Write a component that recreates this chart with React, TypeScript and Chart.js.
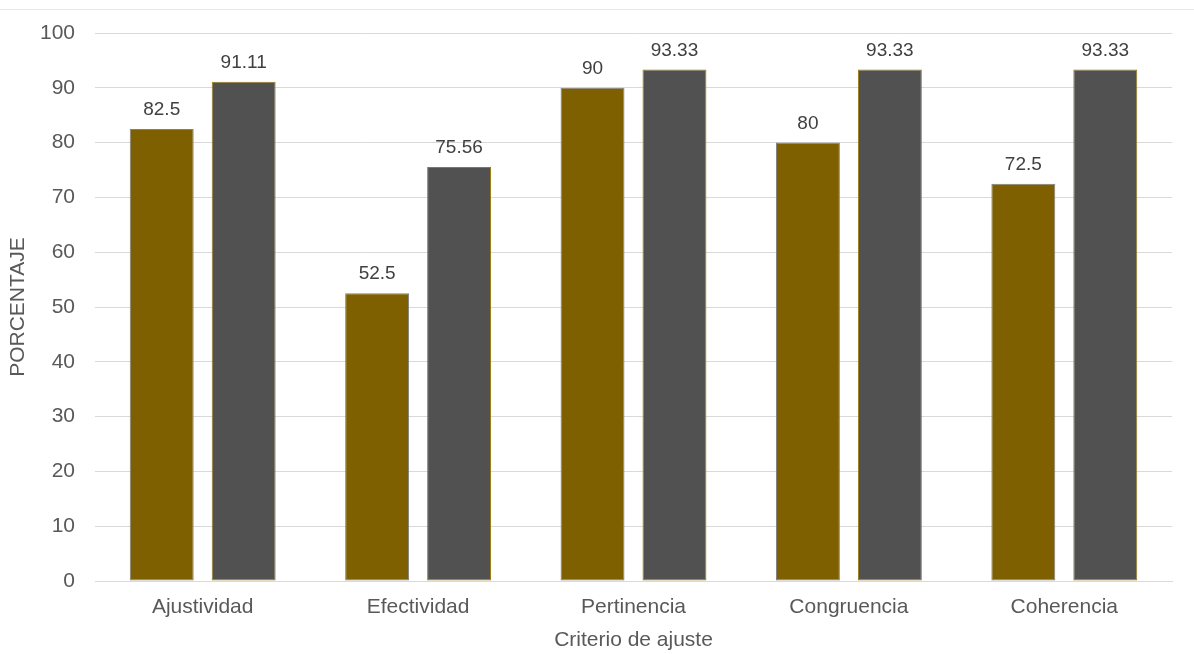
import React, { useEffect, useRef } from "react";
import { Chart, registerables } from "chart.js";

Chart.register(...registerables);

const categories = ["Ajustividad", "Efectividad", "Pertinencia", "Congruencia", "Coherencia"];
const series1 = [82.5, 52.5, 90, 80, 72.5];
const series2 = [91.11, 75.56, 93.33, 93.33, 93.33];
const yTicks = [0, 10, 20, 30, 40, 50, 60, 70, 80, 90, 100];

const FONT = "'Liberation Sans', Arial, sans-serif";
const TEXT = "#595959";

const valueLabels = {
  id: "valueLabels",
  afterDatasetsDraw(chart: any) {
    const ctx = chart.ctx;
    ctx.save();
    ctx.font = `19px ${FONT}`;
    ctx.fillStyle = "#404040";
    ctx.textAlign = "center";
    ctx.textBaseline = "alphabetic";
    chart.data.datasets.forEach((ds: any, i: number) => {
      const meta = chart.getDatasetMeta(i);
      meta.data.forEach((bar: any, j: number) => {
        ctx.fillText(String(ds.data[j]), bar.x, bar.y - 14);
      });
    });
    ctx.restore();
  },
};

export default function App() {
  const ref = useRef<HTMLCanvasElement>(null);
  useEffect(() => {
    document.body.style.margin = "0";
    const chart = new Chart(ref.current!, {
      type: "bar",
      data: {
        labels: categories,
        datasets: [
          {
            label: "Serie 1",
            data: series1,
            backgroundColor: "#7F6000",
            borderColor: "#7F7F7F",
            borderWidth: 1,
            borderSkipped: false,
          },
          {
            label: "Serie 2",
            data: series2,
            backgroundColor: "#515151",
            borderColor: "#9C7A10",
            borderWidth: 1,
            borderSkipped: false,
          },
        ],
      },
      options: {
        animation: false,
        responsive: false,
        layout: { padding: { left: 0, top: 33, right: 22, bottom: 0 } },
        datasets: { bar: { categoryPercentage: 0.761, barPercentage: 0.78 } },
        plugins: { legend: { display: false }, tooltip: { enabled: false } },
        scales: {
          x: {
            grid: { display: false },
            border: { color: "#D9D9D9" },
            ticks: { color: TEXT, font: { family: FONT, size: 21 }, padding: 6 },
            title: { display: true, text: "Criterio de ajuste", color: TEXT, font: { family: FONT, size: 21 }, padding: { top: 1, bottom: 1 } },
            afterFit: (s: any) => { s.height = 73; },
          },
          y: {
            min: 0,
            max: 100,
            afterBuildTicks: (s: any) => { s.ticks = yTicks.map((v) => ({ value: v })); },
            grid: { color: "#D9D9D9", drawTicks: false },
            border: { display: false },
            ticks: { color: TEXT, font: { family: FONT, size: 21 }, padding: 20 },
            title: { display: true, text: "PORCENTAJE", color: TEXT, font: { family: FONT, size: 21 }, padding: { top: 6, bottom: 0 } },
            afterFit: (s: any) => { s.width = 95; },
          },
        },
      },
      plugins: [valueLabels],
    });
    return () => chart.destroy();
  }, []);
  return (
    <div style={{ position: "relative", width: 1194, height: 654 }}>
      <div style={{ position: "absolute", left: 0, right: 0, top: 9, borderTop: "1px solid #E6E6E6" }} />
      <canvas ref={ref} width={1194} height={654} style={{ display: "block" }} />
    </div>
  );
}
